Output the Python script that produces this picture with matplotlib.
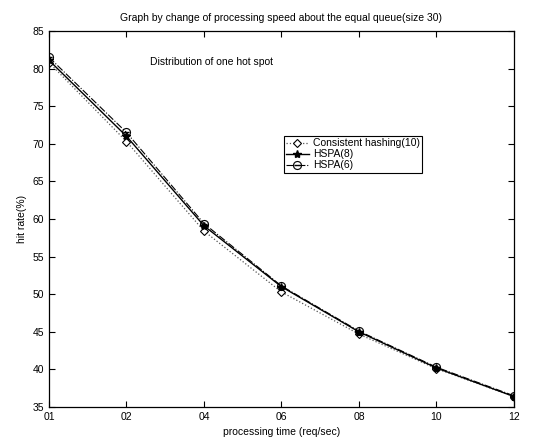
import matplotlib
matplotlib.use("Agg")
import matplotlib.pyplot as plt

plt.rcParams['font.family'] = ['Liberation Sans', 'DejaVu Sans']

categories = ['01', '02', '04', '06', '08', '10', '12']
consistent_hashing = [80.8, 70.3, 58.4, 50.3, 44.7, 40.1, 36.4]
hspa8 = [81.1, 71.0, 59.1, 51.0, 45.0, 40.2, 36.4]
hspa6 = [81.5, 71.5, 59.4, 51.1, 45.1, 40.3, 36.5]
yticks = [35, 40, 45, 50, 55, 60, 65, 70, 75, 80, 85]

fig = plt.figure(figsize=(5.36, 4.42), dpi=100)
ax = fig.add_axes([0.0914, 0.079, 0.8675, 0.851])
x = list(range(len(categories)))

ax.plot(x, consistent_hashing, linestyle=':', color='#555555', linewidth=0.9,
        marker='D', markersize=4.5, markerfacecolor='white', markeredgecolor='black',
        markeredgewidth=0.8, label='Consistent hashing(10)')
ax.plot(x, hspa8, linestyle='-', color='black', linewidth=1.0,
        marker='*', markersize=6, markerfacecolor='black', markeredgecolor='black',
        label='HSPA(8)')
ax.plot(x, hspa6, linestyle='-.', color='black', linewidth=0.8,
        marker=r'$\ominus$', markersize=6.5, markerfacecolor='black', markeredgecolor='black',
        markeredgewidth=0.1, label='HSPA(6)')

ax.set_xlim(0, len(categories) - 1)
ax.set_ylim(35, 85)
ax.set_xticks(x)
ax.set_xticklabels(categories)
ax.set_yticks(yticks)
ax.tick_params(direction='in', labelsize=7.5, length=4, top=True, right=True, width=0.8)
for s in ax.spines.values():
    s.set_linewidth(0.9)

ax.set_title('Graph by change of processing speed about the equal queue(size 30)', fontsize=7.5, pad=7)
ax.set_xlabel('processing time (req/sec)', fontsize=7.5, labelpad=4)
ax.set_ylabel('hit rate(%)', fontsize=7.5, labelpad=4)
ax.text(1.3, 80.5, 'Distribution of one hot spot', fontsize=7.5)

leg = ax.legend(loc='upper left', bbox_to_anchor=(0.505, 0.72), fontsize=7.5,
                fancybox=False, edgecolor='black', framealpha=1, borderpad=0.2,
                handlelength=2.2, handletextpad=0.4, labelspacing=0.1, borderaxespad=0)
leg.get_frame().set_linewidth(0.8)

fig.savefig('out.png', dpi=100)
